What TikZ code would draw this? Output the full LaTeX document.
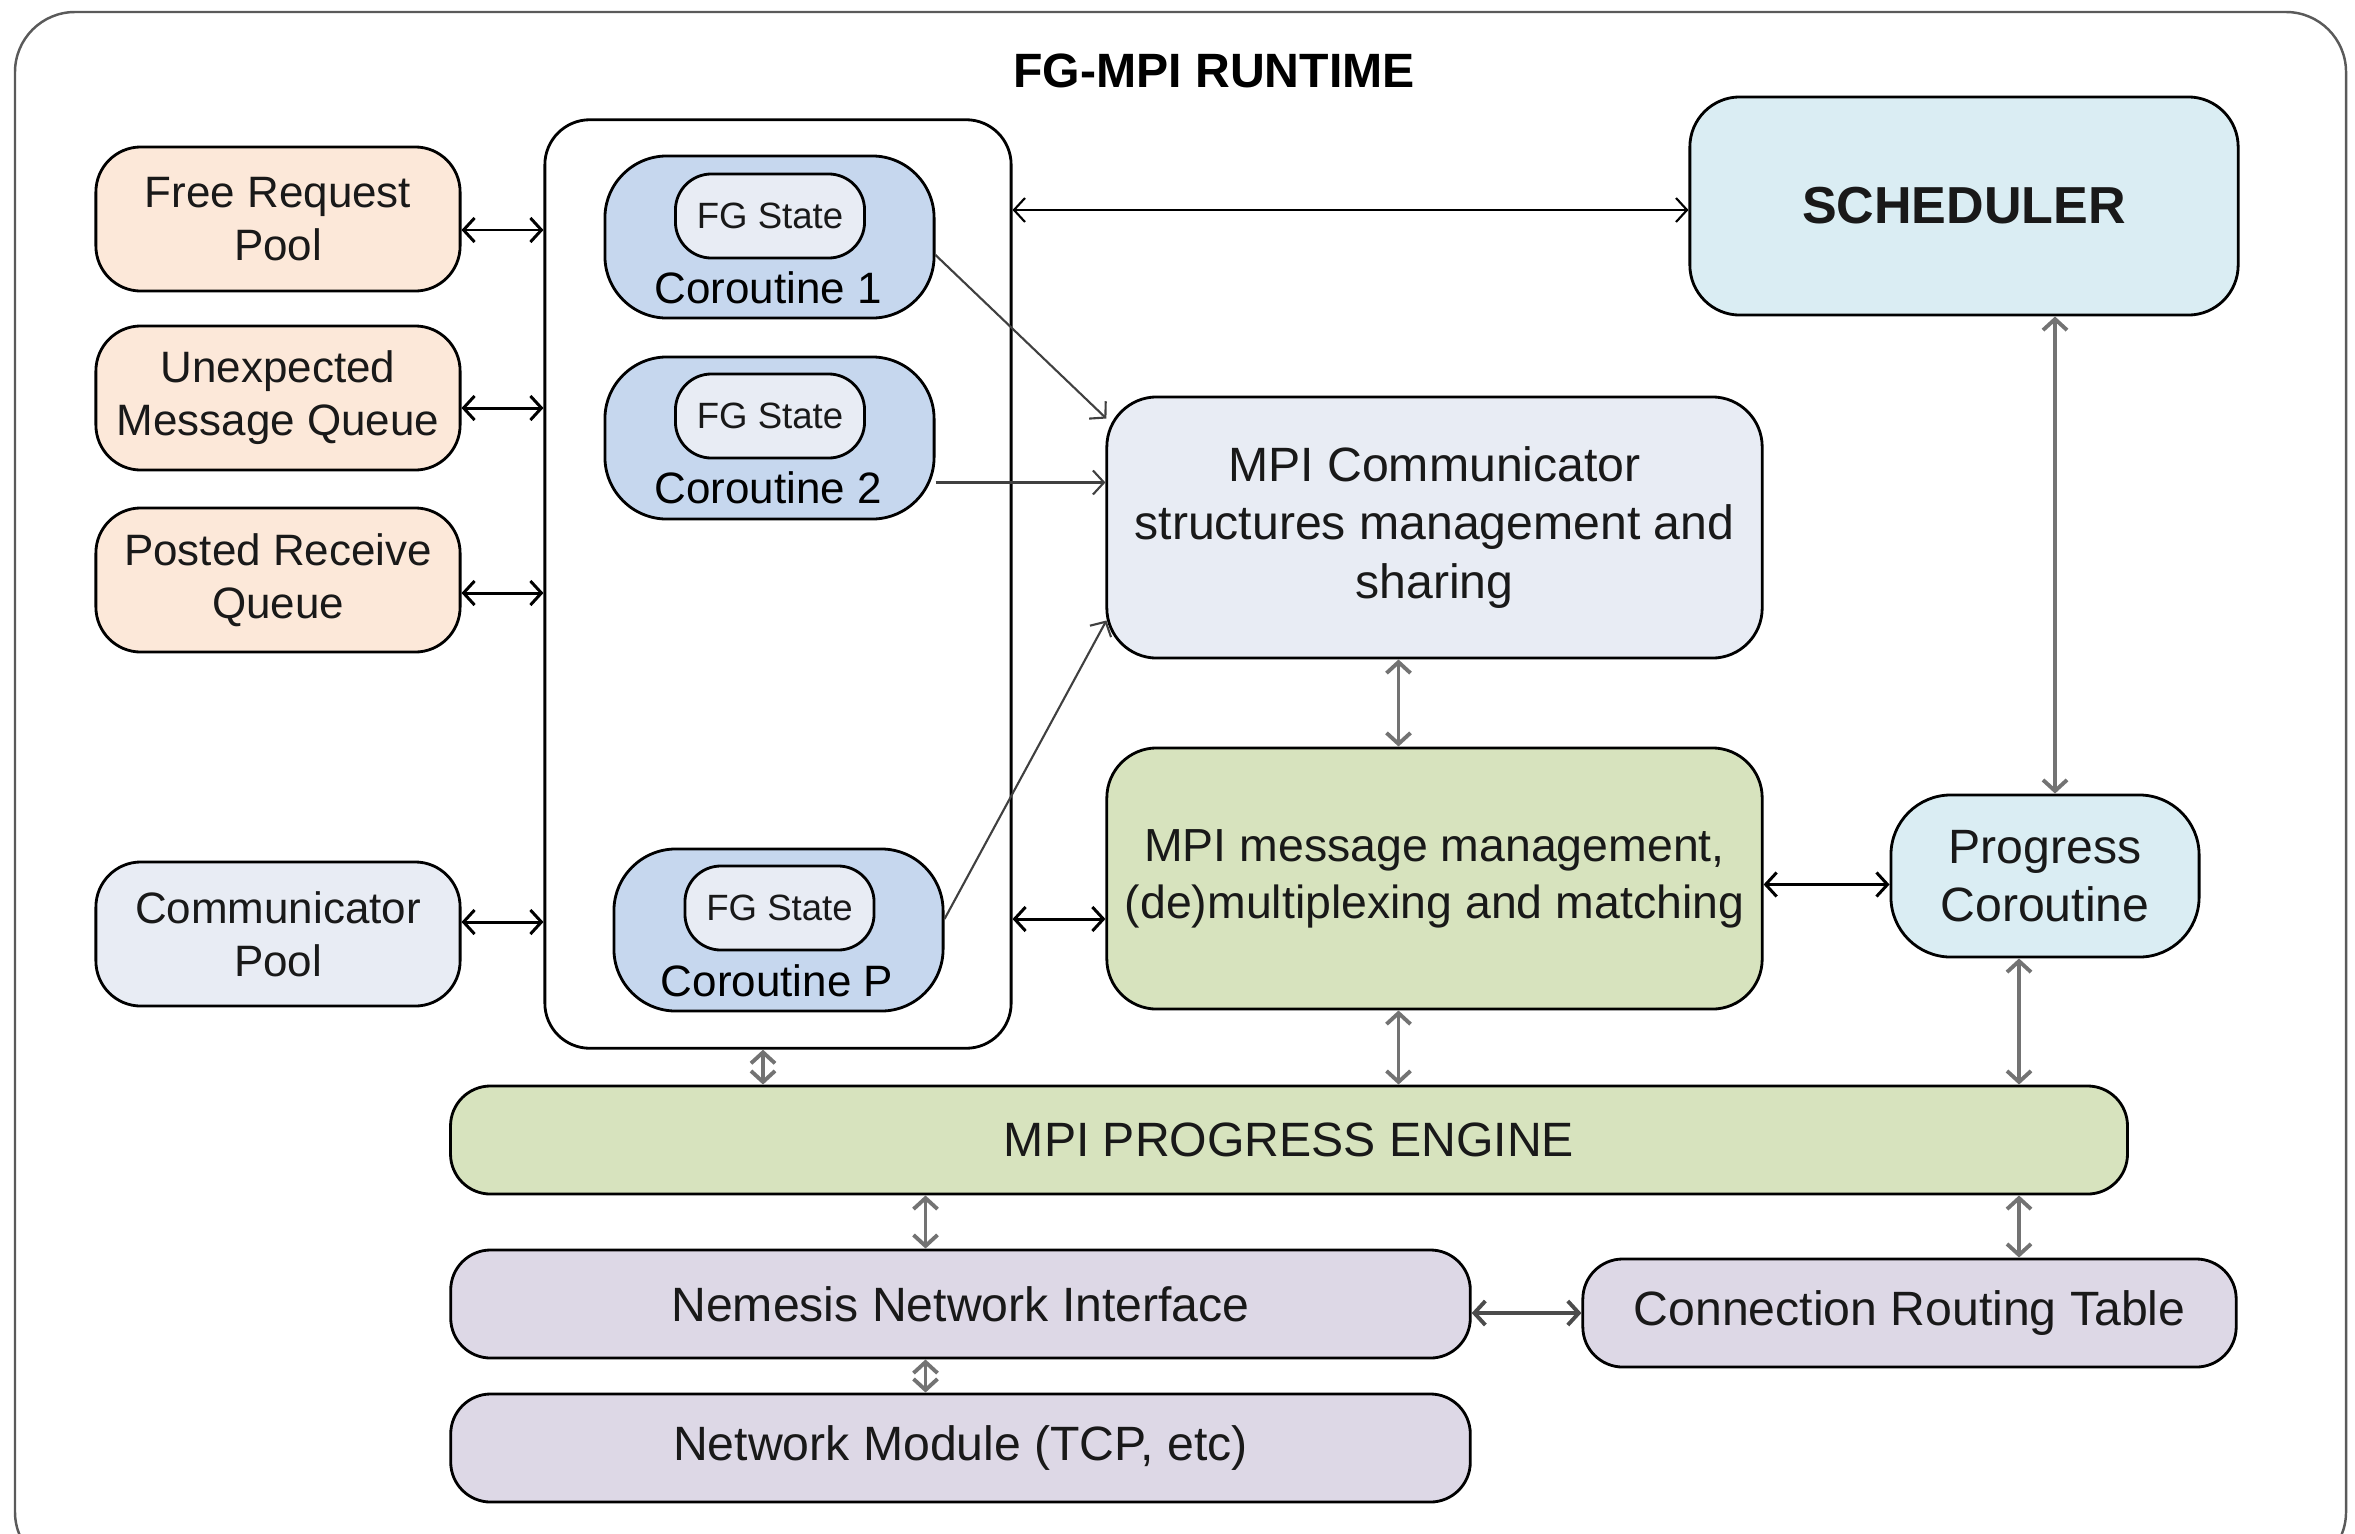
\documentclass[tikz,border=0pt]{standalone}
\usepackage{fontspec}
\setmainfont{Liberation Sans}
\usetikzlibrary{arrows.meta,calc}

\definecolor{peach}{HTML}{FCE8D9}
\definecolor{paleblue}{HTML}{E8ECF4}
\definecolor{corblue}{HTML}{C6D7EE}
\definecolor{cyanbox}{HTML}{DAEDF3}
\definecolor{greenbox}{HTML}{D7E3BE}
\definecolor{lavender}{HTML}{DDD8E6}
\definecolor{framegray}{HTML}{5A5A5A}

\begin{document}
\begin{tikzpicture}[x=0.01cm,y=-0.01cm,
  >={Straight Barb[length=1.1mm,width=2.4mm]},
  box/.style={draw=black,line width=0.8pt,align=center,inner sep=0pt,text=black!90},
  fsmall/.style={font=\fontsize{12.5}{15}\selectfont},
  fmid/.style={font=\fontsize{13.7}{16.6}\selectfont},
  ftiny/.style={font=\fontsize{10.4}{12.5}\selectfont},
  sidebox/.style={box,fsmall,rounded corners=0.45cm,minimum width=3.64cm,minimum height=1.44cm},
  corbox/.style={box,fill=corblue,rounded corners=0.62cm,minimum width=3.29cm,minimum height=1.62cm},
  fgbox/.style={box,ftiny,fill=paleblue,rounded corners=0.36cm,minimum width=1.89cm,minimum height=0.84cm},
  bigbox/.style={box,fmid,rounded corners=0.5cm,minimum width=6.55cm,minimum height=2.61cm},
  barbox/.style={box,fmid,rounded corners=0.4cm,minimum height=1.08cm},
  conn/.style={<->,draw=black,line width=0.85pt},
  gconn/.style={<->,draw=black!55,line width=1.1pt},
  dconn/.style={->,draw=black!75,line width=0.6pt}
]
\useasboundingbox (0,0) rectangle (2355,1533);

% outer runtime frame (its bottom edge runs off the page)
\begin{scope}
  \clip (0,0) rectangle (2355,1533);
  \draw[framegray,line width=0.7pt,rounded corners=0.6cm] (15,12) rectangle (2346,1572);
\end{scope}
\node[font=\bfseries\fontsize{13.7}{16}\selectfont] (title) at (1214,71) {FG-MPI RUNTIME};

% left-hand pools and queues
\node[sidebox,fill=peach] (frp) at (278,219) {Free Request\\Pool};
\node[sidebox,fill=peach] (umq) at (278,398) {Unexpected\\Message Queue};
\node[sidebox,fill=peach] (prq) at (278,580) {Posted Receive\\Queue};
\node[sidebox,fill=paleblue] (cpool) at (278,934) {Communicator\\Pool};

% container of coroutines
\node[box,fill=white,rounded corners=0.45cm,minimum width=4.66cm,minimum height=9.28cm] (cont) at (778,584) {};

\node[corbox] (co1) at (769.5,237) {};
\node[fgbox] (fg1) at (770,216) {FG State};
\node[fsmall] (co1t) at (768,288) {Coroutine 1};

\node[corbox] (co2) at (769.5,438) {};
\node[fgbox] (fg2) at (770,416) {FG State};
\node[fsmall] (co2t) at (768,488) {Coroutine 2};

\node[corbox] (coP) at (778.5,930) {};
\node[fgbox] (fgP) at (779.5,908) {FG State};
\node[fsmall] (coPt) at (777,981) {Coroutine P};

% right-hand blocks
\node[box,fill=cyanbox,rounded corners=0.5cm,minimum width=5.48cm,minimum height=2.18cm,
      font=\bfseries\fontsize{14.8}{17}\selectfont] (sched) at (1964,206) {SCHEDULER};
\node[bigbox,fill=paleblue] (mcomm) at (1434.5,527.5) {MPI Communicator\\structures management and\\sharing};
\node[bigbox,fill=greenbox,font=\fontsize{13.2}{16.2}\selectfont] (mmsg) at (1434.5,878.5) {MPI message management,\\(de)multiplexing and matching};
\node[box,fmid,fill=cyanbox,rounded corners=0.6cm,minimum width=3.08cm,minimum height=1.62cm] (pcor) at (2045,876) {Progress\\Coroutine};

% bottom layers
\node[barbox,fill=greenbox,minimum width=16.76cm] (eng) at (1289,1140) {MPI PROGRESS ENGINE};
\node[barbox,fill=lavender,minimum width=10.19cm] (nem) at (960.5,1304) {Nemesis Network Interface};
\node[barbox,fill=lavender,minimum width=6.53cm] (crt) at (1909.5,1313) {Connection Routing Table};
\node[barbox,fill=lavender,minimum width=10.19cm] (netm) at (960.5,1448) {Network Module (TCP, etc)};

% pools <-> coroutine container
\draw[conn] ($(frp.east)+(0,11)$) coordinate (a1) -- (a1 -| cont.west);
\draw[conn] ($(umq.east)+(0,10)$) coordinate (a2) -- (a2 -| cont.west);
\draw[conn] ($(prq.east)+(0,13)$) coordinate (a3) -- (a3 -| cont.west);
\draw[conn] ($(cpool.east)+(0,-12)$) coordinate (a4) -- (a4 -| cont.west);

% container <-> scheduler and message management
\draw[conn,line width=0.6pt] ($(sched.west)+(0,4)$) coordinate (a6) -- (a6 -| cont.east);
\draw[conn] ($(cont.east |- coP.east)+(0,-11)$) coordinate (a5) -- (a5 -| mmsg.west);

% coroutines -> communicator structures
\draw[dconn] ($(co1.east)+(0,18)$) -- ($(mcomm.north west)+(1,23)$);
\draw[dconn] (co2.-15) -- (co2.-15 -| mcomm.west);
\draw[dconn] ($(coP.east)+(0,-11)$) -- ($(mcomm.south west)+(1,-39)$);

% vertical links
\draw[gconn] ($(mcomm.south)+(-36,0)$) coordinate (v1) -- (v1 |- mmsg.north);
\draw[gconn] ($(pcor.north)+(10,0)$) coordinate (v2) -- (v2 |- sched.south);
\draw[conn] ($(mmsg.east)+(0,6)$) coordinate (a7) -- (a7 -| pcor.west);
\draw[gconn] ($(cont.south)+(-15,0)$) coordinate (v3) -- (v3 |- eng.north);
\draw[gconn] ($(mmsg.south)+(-36,0)$) coordinate (v4) -- (v4 |- eng.north);
\draw[gconn] ($(pcor.south)+(-26,0)$) coordinate (v5) -- (v5 |- eng.north);
\draw[gconn] ($(nem.north)+(-35,0)$) coordinate (v6) -- (v6 |- eng.south);
\draw[gconn] ($(crt.north)+(109.5,0)$) coordinate (v7) -- (v7 |- eng.south);
\draw[gconn] ($(netm.north)+(-35,0)$) coordinate (v8) -- (v8 |- nem.south);
\draw[conn,draw=black!70,line width=1.1pt] (crt.west -| nem.east) -- (crt.west);

\end{tikzpicture}
\end{document}
